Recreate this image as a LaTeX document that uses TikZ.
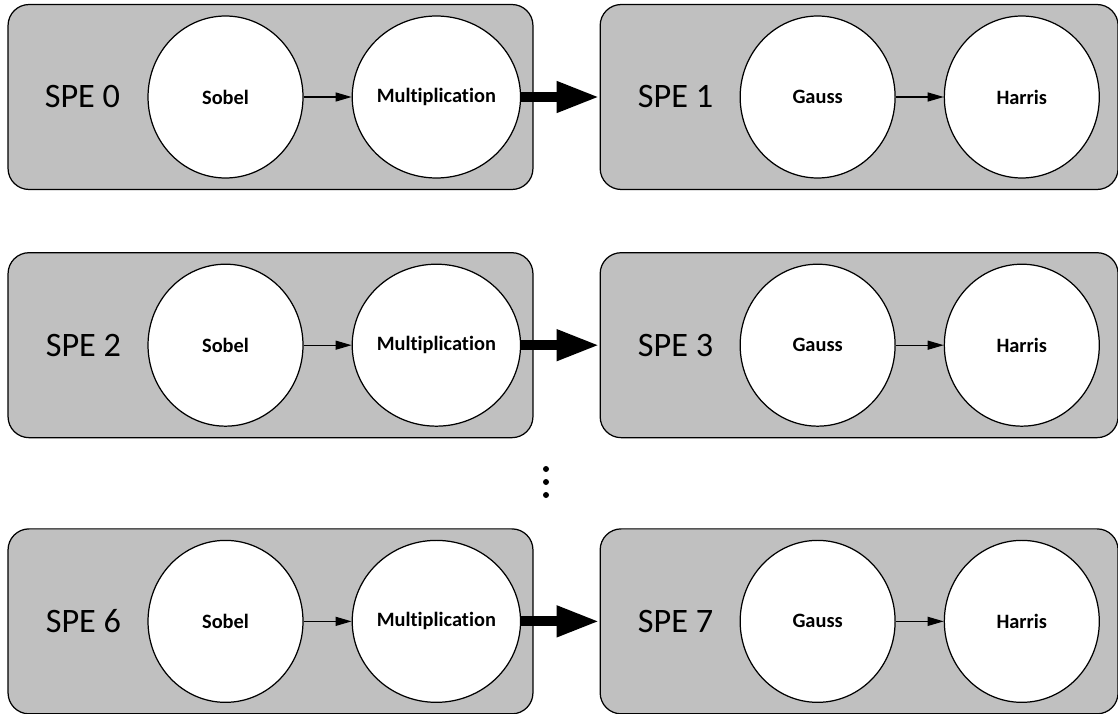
\documentclass[tikz,border=0pt]{standalone}
\usepackage{fontspec}
\setmainfont[Ligatures=NoCommon]{Carlito}
\usetikzlibrary{arrows.meta,positioning,shapes.geometric}
\definecolor{spegray}{RGB}{192,192,192}

\begin{document}
\begin{tikzpicture}[
    x=0.02cm, y=-0.02cm,
    node distance=0.96cm,
    spebox/.style={rectangle, draw, line width=0.7pt, fill=spegray, rounded corners=0.42cm, minimum height=3.7cm},
    stage/.style={ellipse, draw, line width=0.7pt, fill=white, minimum width=3.1cm, minimum height=3.24cm, inner sep=0pt, font=\bfseries\fontsize{11.6}{13}\selectfont},
    spelabel/.style={inner sep=0pt, font=\fontsize{19.5}{22}\selectfont},
    arrow/.style={-{Triangle[length=0.32cm, width=0.18cm]}, line width=0.7pt},
    bigarrow/.style={-{Triangle[length=0.86cm, width=0.58cm]}, line width=0.2cm}
]
\useasboundingbox (0,0) rectangle (1118,713);

% Boxes
\node[spebox, minimum width=10.5cm] (spe0) at (270.5,97) {};
\node[spebox, minimum width=10.36cm, right=1.32cm of spe0] (spe1) {};
\node[spebox, minimum width=10.5cm, below=1.24cm of spe0] (spe2) {};
\node[spebox, minimum width=10.36cm, right=1.32cm of spe2] (spe3) {};
\node[spebox, minimum width=10.5cm, below=1.8cm of spe2] (spe6) {};
\node[spebox, minimum width=10.36cm, right=1.32cm of spe6] (spe7) {};

% Labels
\node[spelabel, right=0.74cm of spe0.west] (lbl0) {SPE 0};
\node[spelabel, right=0.76cm of spe1.west] (lbl1) {SPE 1};
\node[spelabel, right=0.76cm of spe2.west] (lbl2) {SPE 2};
\node[spelabel, right=0.76cm of spe3.west] (lbl3) {SPE 3};
\node[spelabel, right=0.76cm of spe6.west] (lbl6) {SPE 6};
\node[spelabel, right=0.76cm of spe7.west] (lbl7) {SPE 7};

% Stages
\node[stage, right=2.8cm of spe0.west] (sobel0) {Sobel};
\node[stage, right=of sobel0] (mult0) {Multiplication};
\node[stage, right=2.8cm of spe1.west] (gauss1) {Gauss};
\node[stage, right=of gauss1] (harris1) {Harris};
\node[stage, right=2.8cm of spe2.west] (sobel2) {Sobel};
\node[stage, right=of sobel2] (mult2) {Multiplication};
\node[stage, right=2.8cm of spe3.west] (gauss3) {Gauss};
\node[stage, right=of gauss3] (harris3) {Harris};
\node[stage, right=2.8cm of spe6.west] (sobel6) {Sobel};
\node[stage, right=of sobel6] (mult6) {Multiplication};
\node[stage, right=2.8cm of spe7.west] (gauss7) {Gauss};
\node[stage, right=of gauss7] (harris7) {Harris};

% Arrows
\draw[arrow] (sobel0) -- (mult0);
\draw[arrow] (gauss1) -- (harris1);
\draw[bigarrow] (mult0) -- (spe1);
\draw[arrow] (sobel2) -- (mult2);
\draw[arrow] (gauss3) -- (harris3);
\draw[bigarrow] (mult2) -- (spe3);
\draw[arrow] (sobel6) -- (mult6);
\draw[arrow] (gauss7) -- (harris7);
\draw[bigarrow] (mult6) -- (spe7);

% Dots
\fill (546,469) circle (0.06cm);
\fill (546,482) circle (0.06cm);
\fill (546,495) circle (0.06cm);

\end{tikzpicture}
\end{document}
